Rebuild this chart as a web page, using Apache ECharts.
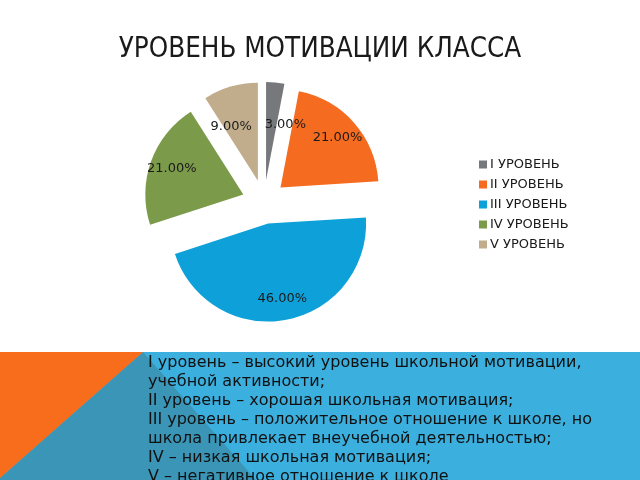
<!DOCTYPE html>
<html lang="ru">
<head>
    <meta charset="utf-8">
    <title>Уровень мотивации класса</title>
    <script src="https://cdn.jsdelivr.net/npm/echarts@6/dist/echarts.min.js"></script>
    <style>
        html, body { margin: 0; padding: 0; background: #fff; }
    </style>
</head>
<body>
<div id="main" style="width: 640px;height:480px;"></div>
<script type="text/javascript">
    // данные диаграммы
    var levels = ['I УРОВЕНЬ', 'II УРОВЕНЬ', 'III УРОВЕНЬ', 'IV УРОВЕНЬ', 'V УРОВЕНЬ'];
    var percents = [3, 21, 46, 21, 9];
    var colors = ['#76787c', '#f56b1f', '#0ea1d9', '#7b9a4a', '#c1ad8c'];
    var notes = [
        'I уровень – высокий уровень школьной мотивации,',
        'учебной активности;',
        'II уровень – хорошая школьная мотивация;',
        'III уровень – положительное отношение к школе, но',
        'школа привлекает внеучебной деятельностью;',
        'IV – низкая школьная мотивация;',
        'V – негативное отношение к школе'
    ];

    var pieData = [];
    for (var i = 0; i < levels.length; i++) {
        pieData.push({
            name: levels[i],
            value: percents[i],
            selected: true,
            itemStyle: { color: colors[i] }
        });
    }

    // прозрачный слой с подписями: small - подписи маленьких секторов (ближе к центру)
    function labelLayer(radius, small) {
        var data = [];
        for (var i = 0; i < levels.length; i++) {
            var isSmall = percents[i] < 10;
            var lbl = { show: isSmall === small };
            if (small && isSmall) {
                // разводим подписи в стороны, чтобы не наезжали друг на друга
                lbl.padding = i === 0 ? [0, 0, 0, 28] : [0, 22, 0, 0];
            }
            data.push({ name: levels[i], value: percents[i], selected: true, label: lbl });
        }
        return {
            name: 'Подписи',
            type: 'pie',
            center: [264, 202],
            radius: [0, radius],
            startAngle: 90,
            selectedMode: 'multiple',
            selectedOffset: 22,
            avoidLabelOverlap: false,
            silent: true,
            legendHoverLink: false,
            itemStyle: { color: 'rgba(0,0,0,0)' },
            label: {
                position: 'inside',
                verticalAlign: 'top',
                fontFamily: 'DejaVu Sans',
                fontSize: 13,
                color: '#1a1a1a',
                formatter: function (p) {
                    return p.value.toFixed(2) + '%';
                }
            },
            labelLine: { show: false },
            labelLayout: { hideOverlap: false },
            emphasis: { disabled: true },
            data: data
        };
    }

    var myChart = echarts.init(document.getElementById('main'));
    var option = {
        backgroundColor: '#fff',
        animation: false,
        title: {
            text: 'УРОВЕНЬ МОТИВАЦИИ КЛАССА',
            left: 'center',
            top: 31,
            textStyle: {
                fontFamily: 'DejaVu Sans Condensed',
                fontWeight: 'normal',
                fontSize: 27.5,
                color: '#1a1a1a'
            }
        },
        legend: {
            orient: 'vertical',
            left: 474,
            top: 153,
            itemWidth: 8,
            itemHeight: 8,
            itemGap: 7,
            icon: 'rect',
            selectedMode: false,
            data: levels,
            textStyle: {
                fontFamily: 'DejaVu Sans',
                fontSize: 13,
                lineHeight: 13,
                color: '#1a1a1a',
                padding: [0, 0, 0, -2]
            }
        },
        graphic: [
            {
                type: 'rect',
                shape: { x: 0, y: 352, width: 640, height: 128 },
                style: { fill: '#3bb0df' },
                z: 1
            },
            {
                type: 'polygon',
                shape: { points: [[143, 352], [256, 480], [0, 480], [0, 478]] },
                style: { fill: '#3a95b6' },
                z: 2
            },
            {
                type: 'polygon',
                shape: { points: [[0, 352], [143, 352], [0, 478]] },
                style: { fill: '#f86d1c' },
                z: 3
            },
            {
                type: 'text',
                left: 148,
                top: 353,
                z: 4,
                style: {
                    text: notes.join('\n'),
                    font: '16px "DejaVu Sans"',
                    lineHeight: 19,
                    fill: '#111'
                }
            }
        ],
        series: [
            {
                name: 'Уровень',
                type: 'pie',
                center: [264, 202],
                radius: [0, 98],
                startAngle: 90,
                selectedMode: 'multiple',
                selectedOffset: 22,
                label: { show: false },
                labelLine: { show: false },
                emphasis: { disabled: true },
                data: pieData
            },
            labelLayer(146, false),
            labelLayer(106, true)
        ]
    };
    myChart.setOption(option);
</script>
</body>
</html>
